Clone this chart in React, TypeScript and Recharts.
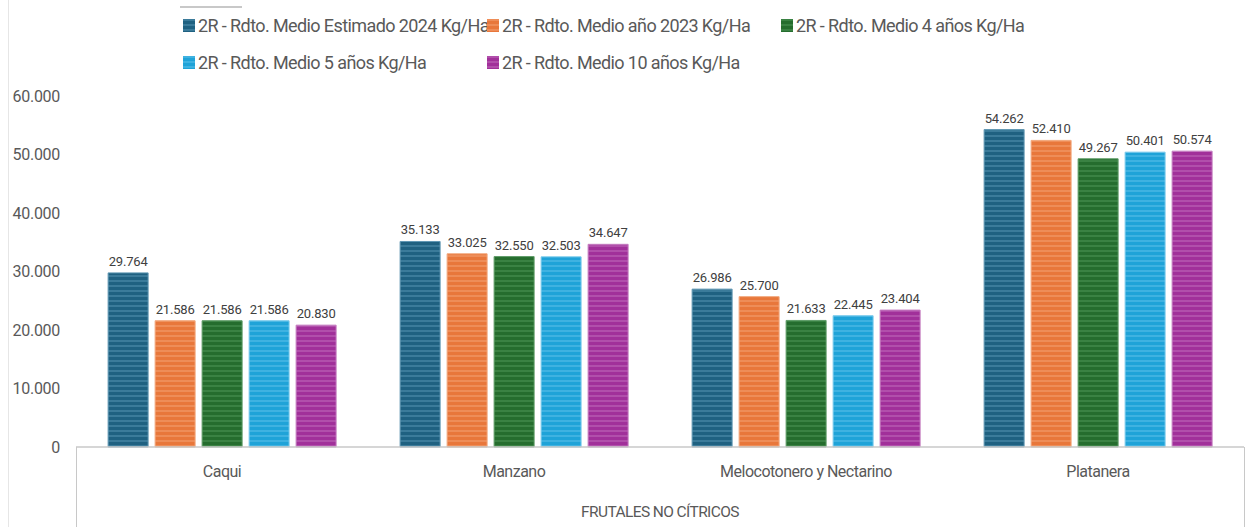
import { BarChart, Bar, XAxis, YAxis, LabelList } from "recharts";

const categories = ["Caqui", "Manzano", "Melocotonero y Nectarino", "Platanera"];

const estimado2024 = [29764, 35133, 26986, 54262];
const anio2023 = [21586, 33025, 25700, 52410];
const cuatroAnios = [21586, 32550, 21633, 49267];
const cincoAnios = [21586, 32503, 22445, 50401];
const diezAnios = [20830, 34647, 23404, 50574];

const yTicks = [0, 10000, 20000, 30000, 40000, 50000, 60000];

const groupLabel = "FRUTALES NO CÍTRICOS";

const series = [
  { key: "e2024", name: "2R - Rdto. Medio Estimado 2024 Kg/Ha", values: estimado2024, base: "#1f6181", light: "#3b7b9a", stroke: "#5f97b3" },
  { key: "a2023", name: "2R - Rdto. Medio año 2023 Kg/Ha", values: anio2023, base: "#e8773b", light: "#ee8d58", stroke: "#f2a77c" },
  { key: "a4", name: "2R - Rdto. Medio 4 años Kg/Ha", values: cuatroAnios, base: "#256d2e", light: "#3a8243", stroke: "#5e9c66" },
  { key: "a5", name: "2R - Rdto. Medio 5 años Kg/Ha", values: cincoAnios, base: "#1fa3d8", light: "#3fb2e1", stroke: "#7ccbec" },
  { key: "a10", name: "2R - Rdto. Medio 10 años Kg/Ha", values: diezAnios, base: "#a1309a", light: "#b14fab", stroke: "#c57dc0" },
];

const data = categories.map((name, i) => {
  const row: Record<string, string | number> = { name };
  series.forEach((s) => {
    row[s.key] = s.values[i];
  });
  return row;
});

const fmt = (v: number) =>
  v === 0 ? "0" : String(Math.round(v)).replace(/\B(?=(\d{3})+(?!\d))/g, ".");

const FONT = "Roboto, sans-serif";

// legend item positions (swatch x, row y)
const legendPos = [
  { x: 183, y: 25 },
  { x: 487, y: 25 },
  { x: 781, y: 25 },
  { x: 183, y: 62 },
  { x: 487, y: 62 },
];

export default function App() {
  return (
    <div
      style={{
        position: "absolute",
        left: 0,
        top: 0,
        width: 1253,
        height: 527,
        background: "#fff",
        fontFamily: FONT,
        overflow: "hidden",
      }}
    >
      <div style={{ position: "absolute", left: 8, top: 0, width: 1, height: 527, background: "#e6e6e6" }} />
      <div style={{ position: "absolute", left: 180, top: 6, width: 62, height: 2, background: "#c8c8c8" }} />

      {series.map((s, i) => (
        <div
          key={s.key}
          style={{
            position: "absolute",
            left: legendPos[i].x,
            top: legendPos[i].y - 12,
            height: 24,
            display: "flex",
            alignItems: "center",
            whiteSpace: "nowrap",
            fontSize: 18,
            letterSpacing: -0.6,
            color: "#595959",
          }}
        >
          <svg width={12} height={13} style={{ marginRight: 3 }}>
            <rect width={12} height={13} fill={`url(#pat-${s.key})`} />
          </svg>
          {s.name}
        </div>
      ))}

      <div
        style={{
          position: "absolute",
          left: 76,
          top: 447,
          width: 1167,
          height: 80,
          borderLeft: "1px solid #c8c8c8",
          borderRight: "1px solid #c8c8c8",
        }}
      />

      <BarChart
        width={1253}
        height={527}
        data={data}
        margin={{ top: 96, right: 9, bottom: 0, left: 0 }}
        barCategoryGap="11%"
        barGap={7}
        style={{ position: "absolute", left: 0, top: 0 }}
      >
        <defs>
          {series.map((s) => (
            <pattern
              key={s.key}
              id={`pat-${s.key}`}
              patternUnits="userSpaceOnUse"
              width={10}
              height={5}
            >
              <rect width={10} height={5} fill={s.base} />
              <rect width={10} height={2} fill={s.light} />
            </pattern>
          ))}
        </defs>
        <XAxis
          dataKey="name"
          height={80}
          tickLine={false}
          axisLine={{ stroke: "#c8c8c8", strokeWidth: 1.5 }}
          tickMargin={13}
          tick={{ fill: "#595959", fontSize: 16, fontFamily: FONT, letterSpacing: -0.5 }}
          interval={0}
          label={{
            value: groupLabel,
            position: "insideBottom",
            offset: 10,
            fill: "#595959",
            fontSize: 15.5,
            fontFamily: FONT,
            letterSpacing: -0.6,
          }}
        />
        <YAxis
          width={76}
          domain={[0, 60000]}
          ticks={yTicks}
          tickFormatter={fmt}
          tickLine={false}
          axisLine={false}
          tickMargin={10}
          tick={{ fill: "#595959", fontSize: 16, fontFamily: FONT, letterSpacing: -0.3 }}
        />
        {series.map((s) => (
          <Bar
            key={s.key}
            dataKey={s.key}
            name={s.name}
            fill={`url(#pat-${s.key})`}
            stroke={s.stroke}
            strokeWidth={1}
            isAnimationActive={false}
          >
            <LabelList
              dataKey={s.key}
              position="top"
              offset={7}
              formatter={(v: any) => fmt(Number(v))}
              style={{ fill: "#404040", fontSize: 13, fontFamily: FONT, letterSpacing: -0.2 }}
            />
          </Bar>
        ))}
      </BarChart>
    </div>
  );
}
